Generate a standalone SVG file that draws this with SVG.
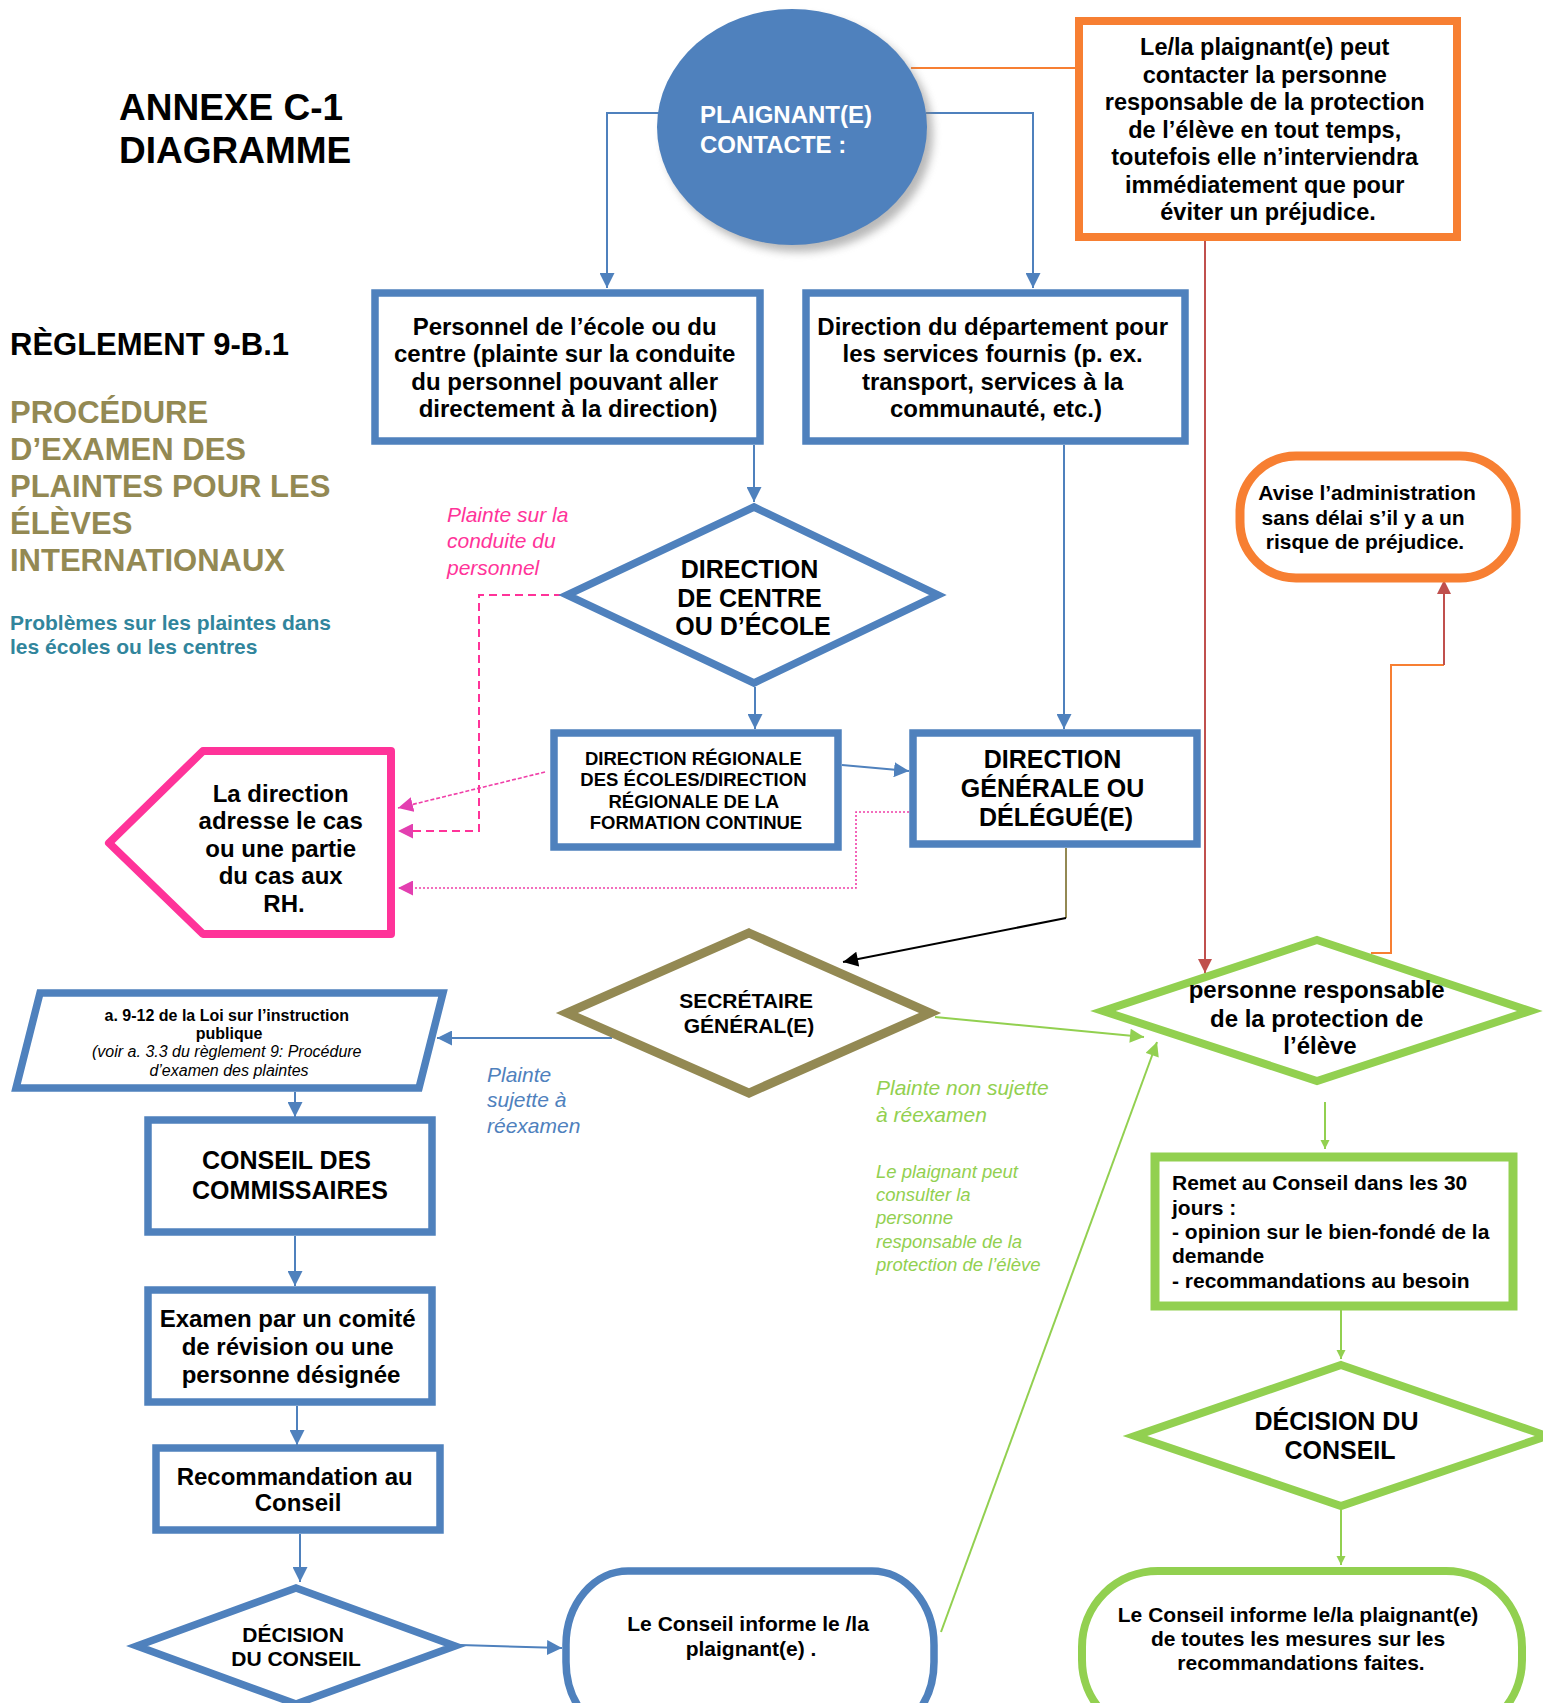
<svg xmlns="http://www.w3.org/2000/svg" width="1543" height="1703" viewBox="0 0 1543 1703">
<defs>
<style>
text{font-family:"Liberation Sans",Arial,Helvetica,sans-serif;fill:#000;}
.b{font-weight:bold;}
.c{text-anchor:middle;}
.it{font-style:italic;}
.bx{fill:#fff;stroke:#4F81BD;stroke-width:7.5;}
.gx{fill:#fff;stroke:#92D050;stroke-width:8;}
.cb{fill:none;stroke:#4F81BD;stroke-width:2;}
.cg{fill:none;stroke:#92D050;stroke-width:2;}
.cp{fill:none;stroke:#F03FA8;stroke-width:1.6;}
</style>
<marker id="ab" viewBox="0 0 10 10" refX="10" refY="5" markerUnits="userSpaceOnUse" markerWidth="15" markerHeight="15" orient="auto"><path d="M0,0 L10,5 L0,10 z" fill="#4F81BD"/></marker>
<marker id="ag" viewBox="0 0 10 10" refX="10" refY="5" markerUnits="userSpaceOnUse" markerWidth="15" markerHeight="14" orient="auto"><path d="M0,0 L10,5 L0,10 z" fill="#92D050"/></marker>
<marker id="ags" viewBox="0 0 10 10" refX="10" refY="5" markerUnits="userSpaceOnUse" markerWidth="9" markerHeight="10" orient="auto"><path d="M0,0 L10,5 L0,10 z" fill="#92D050"/></marker>
<marker id="ap" viewBox="0 0 10 10" refX="10" refY="5" markerUnits="userSpaceOnUse" markerWidth="15" markerHeight="15" orient="auto"><path d="M0,0 L10,5 L0,10 z" fill="#E33FB0"/></marker>
<marker id="ar" viewBox="0 0 10 10" refX="10" refY="5" markerUnits="userSpaceOnUse" markerWidth="15" markerHeight="14" orient="auto"><path d="M0,0 L10,5 L0,10 z" fill="#C0504D"/></marker>
<marker id="ak" viewBox="0 0 10 10" refX="10" refY="5" markerUnits="userSpaceOnUse" markerWidth="16" markerHeight="15" orient="auto"><path d="M0,0 L10,5 L0,10 z" fill="#000"/></marker>
<filter id="sh" x="-20%" y="-20%" width="140%" height="140%"><feGaussianBlur stdDeviation="4"/></filter>
</defs>
<rect width="1543" height="1703" fill="#fff"/>

<g id="titles">
<text class="b" x="119" y="120" font-size="37">ANNEXE C-1</text>
<text class="b" x="119" y="163" font-size="37">DIAGRAMME</text>
<text class="b" x="10" y="355" font-size="31">RÈGLEMENT 9-B.1</text>
<g>
<text class="b" x="10" y="423" font-size="31" style="fill:#938953">PROCÉDURE</text>
<text class="b" x="10" y="460" font-size="31" style="fill:#938953">D’EXAMEN DES</text>
<text class="b" x="10" y="497" font-size="31" style="fill:#938953">PLAINTES POUR LES</text>
<text class="b" x="10" y="534" font-size="31" style="fill:#938953">ÉLÈVES</text>
<text class="b" x="10" y="571" font-size="31" style="fill:#938953">INTERNATIONAUX</text>
</g>
<text class="b" x="10" y="630" font-size="21" style="fill:#31859C">Problèmes sur les plaintes dans</text>
<text class="b" x="10" y="654" font-size="21" style="fill:#31859C">les écoles ou les centres</text>
</g>

<g id="connectors">
<polyline class="cb" points="659,113 607,113 607,288" marker-end="url(#ab)"/>
<polyline class="cb" points="926,113 1033,113 1033,288" marker-end="url(#ab)"/>
<line x1="911" y1="68" x2="1075" y2="68" stroke="#F77F32" stroke-width="2"/>
<line x1="1205" y1="241" x2="1205" y2="973" stroke="#C0504D" stroke-width="2" marker-end="url(#ar)"/>
<line class="cb" x1="754" y1="445" x2="754" y2="502" marker-end="url(#ab)"/>
<line class="cb" x1="755" y1="687" x2="755" y2="729" marker-end="url(#ab)"/>
<line class="cb" x1="842" y1="765" x2="909" y2="771" marker-end="url(#ab)"/>
<line class="cb" x1="1064" y1="445" x2="1064" y2="729" marker-end="url(#ab)"/>
<polyline points="562,595 479,595 479,831 398,831" fill="none" stroke="#FF3399" stroke-width="2" stroke-dasharray="8,5" marker-end="url(#ap)"/>
<line class="cp" x1="545" y1="772" x2="398" y2="808" stroke-dasharray="4,2" marker-end="url(#ap)"/>
<polyline class="cp" points="909,812 856,812 856,888 398,888" stroke-dasharray="2,2" marker-end="url(#ap)"/>
<line x1="1066" y1="848" x2="1066" y2="918" stroke="#938953" stroke-width="2"/>
<line x1="1066" y1="918" x2="843" y2="962" stroke="#000" stroke-width="2" marker-end="url(#ak)"/>
<line class="cb" x1="612" y1="1038" x2="437" y2="1038" stroke-width="2.5" marker-end="url(#ab)"/>
<line class="cg" x1="935" y1="1017" x2="1144" y2="1037" marker-end="url(#ag)"/>
<line class="cg" x1="941" y1="1632" x2="1157" y2="1042" marker-end="url(#ag)"/>
<line class="cb" x1="295" y1="1092" x2="295" y2="1117" marker-end="url(#ab)"/>
<line class="cb" x1="295" y1="1236" x2="295" y2="1286" marker-end="url(#ab)"/>
<line class="cb" x1="297" y1="1406" x2="297" y2="1445" marker-end="url(#ab)"/>
<line class="cb" x1="300" y1="1534" x2="300" y2="1582" marker-end="url(#ab)"/>
<line class="cb" x1="460" y1="1645" x2="562" y2="1648" marker-end="url(#ab)"/>
<line class="cg" x1="1325" y1="1102" x2="1325" y2="1149" marker-end="url(#ags)"/>
<line class="cg" x1="1341" y1="1310" x2="1341" y2="1359" marker-end="url(#ags)"/>
<line class="cg" x1="1341" y1="1510" x2="1341" y2="1565" marker-end="url(#ags)"/>
<polyline points="1371,953 1391,953 1391,665 1444,665" fill="none" stroke="#F77F32" stroke-width="2"/>
<line x1="1444" y1="665" x2="1444" y2="580" stroke="#C0504D" stroke-width="2" marker-end="url(#ar)"/>
</g>

<g id="plaignant">
<ellipse cx="798" cy="134" rx="135" ry="118" fill="#7f7f7f" opacity="0.55" filter="url(#sh)"/>
<ellipse cx="792" cy="127" rx="135" ry="118" fill="#4F81BD"/>
<text class="b" x="700" y="123" font-size="24" style="fill:#fff">PLAIGNANT(E)</text>
<text class="b" x="700" y="153" font-size="24" style="fill:#fff">CONTACTE :</text>
</g>

<g id="note-protection">
<rect x="1079" y="21" width="378" height="216" fill="#fff" stroke="#F77F32" stroke-width="8"/>
<text class="b c" font-size="23.5">
<tspan x="1268" y="55">Le/la plaignant(e) peut</tspan>
<tspan x="1268" y="83">contacter la personne</tspan>
<tspan x="1268" y="110">responsable de la protection</tspan>
<tspan x="1268" y="138">de l’élève en tout temps,</tspan>
<tspan x="1268" y="165">toutefois elle n’interviendra</tspan>
<tspan x="1268" y="193">immédiatement que pour</tspan>
<tspan x="1268" y="220">éviter un préjudice.</tspan>
</text>
</g>

<g id="personnel">
<rect class="bx" x="375" y="293" width="385" height="148"/>
<text class="b c" font-size="24">
<tspan x="568" y="335">Personnel de l’école ou du</tspan>
<tspan x="568" y="362">centre (plainte sur la conduite</tspan>
<tspan x="568" y="390">du personnel pouvant aller</tspan>
<tspan x="568" y="417">directement à la direction)</tspan>
</text>
</g>

<g id="direction-departement">
<rect class="bx" x="806" y="293" width="379" height="148"/>
<text class="b c" font-size="24">
<tspan x="996" y="335">Direction du département pour</tspan>
<tspan x="996" y="362">les services fournis (p. ex.</tspan>
<tspan x="996" y="390">transport, services à la</tspan>
<tspan x="996" y="417">communauté, etc.)</tspan>
</text>
</g>

<g id="direction-centre">
<polygon class="bx" stroke-width="8" points="754,507 938,595 754,683 567,595"/>
<text class="b c" font-size="25">
<tspan x="753" y="578">DIRECTION</tspan>
<tspan x="753" y="607">DE CENTRE</tspan>
<tspan x="753" y="635">OU D’ÉCOLE</tspan>
</text>
</g>

<g id="label-pink">
<text class="it" font-size="21" style="fill:#FF3399">
<tspan x="447" y="522">Plainte sur la</tspan>
<tspan x="447" y="548">conduite du</tspan>
<tspan x="447" y="575">personnel</tspan>
</text>
</g>

<g id="direction-regionale">
<rect class="bx" x="554" y="733" width="284" height="114"/>
<text class="b c" font-size="18.5">
<tspan x="696" y="765">DIRECTION RÉGIONALE</tspan>
<tspan x="696" y="786">DES ÉCOLES/DIRECTION</tspan>
<tspan x="696" y="808">RÉGIONALE DE LA</tspan>
<tspan x="696" y="829">FORMATION CONTINUE</tspan>
</text>
</g>

<g id="direction-generale">
<rect class="bx" x="913" y="733" width="284" height="111"/>
<text class="b c" font-size="25">
<tspan x="1056" y="768">DIRECTION</tspan>
<tspan x="1056" y="797">GÉNÉRALE OU</tspan>
<tspan x="1056" y="826">DÉLÉGUÉ(E)</tspan>
</text>
</g>

<g id="rh">
<polygon points="203,751 391,751 391,934 203,934 109,843" fill="#fff" stroke="#FF3399" stroke-width="8" stroke-linejoin="round"/>
<text class="b c" font-size="24">
<tspan x="284" y="802">La direction</tspan>
<tspan x="284" y="829">adresse le cas</tspan>
<tspan x="284" y="857">ou une partie</tspan>
<tspan x="284" y="884">du cas aux</tspan>
<tspan x="284" y="912">RH.</tspan>
</text>
</g>

<g id="secretaire">
<polygon points="749,933 930,1013 749,1093 567,1013" fill="#fff" stroke="#938953" stroke-width="9"/>
<text class="b c" font-size="21">
<tspan x="749" y="1008">SECRÉTAIRE</tspan>
<tspan x="749" y="1033">GÉNÉRAL(E)</tspan>
</text>
</g>

<g id="loi">
<polygon class="bx" stroke-width="7" points="40,993 443,993 419,1088 16,1088"/>
<text class="b c" font-size="16">
<tspan x="229" y="1021">a. 9-12 de la Loi sur l’instruction</tspan>
<tspan x="229" y="1039">publique</tspan>
</text>
<text class="it c" font-size="16">
<tspan x="229" y="1057">(voir a. 3.3 du règlement 9: Procédure</tspan>
<tspan x="229" y="1076">d’examen des plaintes</tspan>
</text>
</g>

<g id="label-blue">
<text class="it" font-size="21" style="fill:#4F81BD">
<tspan x="487" y="1082">Plainte</tspan>
<tspan x="487" y="1107">sujette à</tspan>
<tspan x="487" y="1133">réexamen</tspan>
</text>
</g>

<g id="label-green">
<text class="it" font-size="21" style="fill:#92D050">
<tspan x="876" y="1095">Plainte non sujette</tspan>
<tspan x="876" y="1122">à réexamen</tspan>
</text>
<text class="it" font-size="18.5" style="fill:#92D050">
<tspan x="876" y="1178">Le plaignant peut</tspan>
<tspan x="876" y="1201">consulter la</tspan>
<tspan x="876" y="1224">personne</tspan>
<tspan x="876" y="1248">responsable de la</tspan>
<tspan x="876" y="1271">protection de l’élève</tspan>
</text>
</g>

<g id="personne-responsable">
<polygon class="gx" points="1317,940 1530,1011 1317,1081 1103,1011"/>
<text class="b c" font-size="24">
<tspan x="1320" y="998">personne responsable</tspan>
<tspan x="1320" y="1027">de la protection de</tspan>
<tspan x="1320" y="1054">l’élève</tspan>
</text>
</g>

<g id="avise">
<rect x="1240" y="456" width="276" height="122" rx="56" ry="56" fill="#fff" stroke="#F77F32" stroke-width="9"/>
<text class="b c" font-size="21">
<tspan x="1370" y="500">Avise l’administration</tspan>
<tspan x="1366" y="525">sans délai s’il y a un</tspan>
<tspan x="1365" y="549">risque de préjudice.</tspan>
</text>
</g>

<g id="conseil-commissaires">
<rect class="bx" x="148" y="1120" width="284" height="112"/>
<text class="b c" font-size="25">
<tspan x="290" y="1169">CONSEIL DES</tspan>
<tspan x="290" y="1199">COMMISSAIRES</tspan>
</text>
</g>

<g id="examen">
<rect class="bx" x="148" y="1290" width="284" height="112"/>
<text class="b c" font-size="24">
<tspan x="291" y="1327">Examen par un comité</tspan>
<tspan x="291" y="1355">de révision ou une</tspan>
<tspan x="291" y="1383">personne désignée</tspan>
</text>
</g>

<g id="recommandation">
<rect class="bx" x="156" y="1448" width="284" height="82"/>
<text class="b c" font-size="24">
<tspan x="298" y="1485">Recommandation au</tspan>
<tspan x="298" y="1511">Conseil</tspan>
</text>
</g>

<g id="decision-conseil-1">
<polygon class="bx" stroke-width="8" points="296,1588 455,1646 296,1704 137,1646"/>
<text class="b c" font-size="21">
<tspan x="296" y="1642">DÉCISION</tspan>
<tspan x="296" y="1666">DU CONSEIL</tspan>
</text>
</g>

<g id="informe-1">
<rect class="bx" stroke-width="8" x="566" y="1571" width="368" height="165" rx="62" ry="74"/>
<text class="b c" font-size="21">
<tspan x="751" y="1631">Le Conseil informe le /la</tspan>
<tspan x="751" y="1656">plaignant(e) .</tspan>
</text>
</g>

<g id="remet">
<rect x="1155" y="1157" width="358" height="149" fill="#fff" stroke="#92D050" stroke-width="9"/>
<text class="b" font-size="21">
<tspan x="1172" y="1190">Remet au Conseil dans les 30</tspan>
<tspan x="1172" y="1215">jours :</tspan>
<tspan x="1172" y="1239">- opinion sur le bien-fondé de la</tspan>
<tspan x="1172" y="1263">demande</tspan>
<tspan x="1172" y="1288">- recommandations au besoin</tspan>
</text>
</g>

<g id="decision-conseil-2">
<polygon class="gx" points="1341,1365 1547,1436 1341,1506 1135,1436"/>
<text class="b c" font-size="25">
<tspan x="1340" y="1430">DÉCISION DU</tspan>
<tspan x="1340" y="1459">CONSEIL</tspan>
</text>
</g>

<g id="informe-2">
<rect class="gx" x="1082" y="1571" width="440" height="165" rx="76" ry="76"/>
<text class="b c" font-size="21">
<tspan x="1301" y="1622">Le Conseil informe le/la plaignant(e)</tspan>
<tspan x="1301" y="1646">de toutes les mesures sur les</tspan>
<tspan x="1301" y="1670">recommandations faites.</tspan>
</text>
</g>
</svg>
